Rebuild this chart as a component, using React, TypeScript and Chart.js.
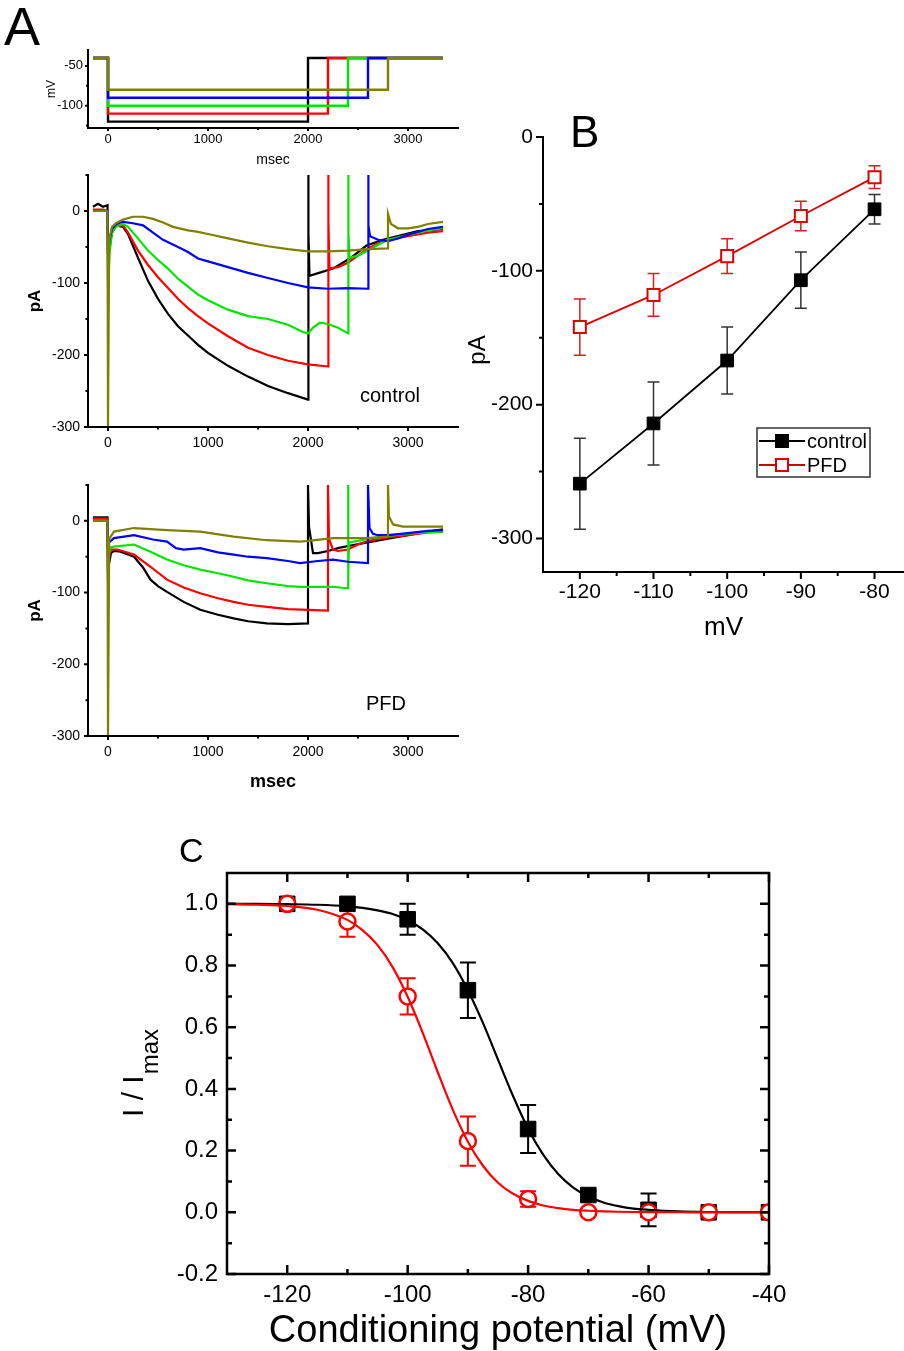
import React, { useEffect, useRef } from 'react';
import { Chart, registerables } from 'chart.js';

Chart.register(...registerables);

const FONT = '"Liberation Sans", Arial, Helvetica, sans-serif';

// ---------------- Panel A : voltage protocol ----------------
const protocolSteps = [-120, -110, -100, -90, -80];
const protocolEnds = [2000, 2200, 2400, 2600, 2800];
const holdingPotential = -40;
const protocolStart = -150;
const protocolStop = 3350;
const traceColors = ['#000000', '#ff0000', '#00e600', '#0000ff', '#808000'];

const msecMajor = [0, 1000, 2000, 3000];
const msecMinor = [500, 1500, 2500];
const mVMajor = [-50, -100];
const mVMinor = [-75, -125];
const pAMajorA = [0, -100, -200, -300];
const pAMinorA = [50, -50, -150, -250];

// ---------------- Panel A : current traces, control ([msec, pA]) ----------------
const ctrlBlack: number[][] = [
  [-150, 6], [-100, 10], [-50, 6], [-5, 8], [0, -60], [15, -50], [40, -30], [80, -20], [150, -22], [200, -32],
  [300, -65], [400, -97], [500, -122], [600, -143], [700, -160], [800, -173], [900, -186], [1000, -197],
  [1200, -215], [1400, -230], [1600, -243], [1800, -253], [2000, -262], [2000, 50], [2008, -30], [2015, -90],
  [2086, -87], [2250, -80], [2418, -66], [2585, -48], [2750, -40], [2917, -34], [3100, -28], [3350, -25],
];
const ctrlRed: number[][] = [
  [-150, 2], [-50, 2], [-5, 0], [0, -60], [15, -45], [40, -28], [80, -20], [150, -20], [200, -30], [300, -55],
  [400, -75], [500, -92], [600, -107], [700, -122], [800, -135], [900, -146], [1000, -156], [1200, -174],
  [1400, -190], [1600, -200], [1800, -208], [2000, -213], [2200, -216], [2200, 50], [2208, -15], [2215, -80],
  [2300, -78], [2400, -72], [2500, -62], [2600, -52], [2700, -45], [2800, -40], [3000, -35], [3200, -30], [3350, -28],
];
const ctrlGreen: number[][] = [
  [-150, 0], [-5, 0], [0, -110], [15, -60], [40, -30], [80, -22], [150, -18], [200, -22], [300, -38], [400, -55],
  [500, -68], [600, -80], [700, -94], [800, -105], [900, -116], [1000, -124], [1200, -137], [1400, -146],
  [1600, -150], [1800, -158], [1950, -168], [2000, -170], [2050, -162], [2120, -155], [2200, -157], [2300, -162],
  [2400, -170], [2400, 50], [2408, -30], [2415, -65], [2500, -62], [2600, -55], [2700, -47], [2800, -40],
  [3000, -33], [3200, -27], [3350, -24],
];
const ctrlBlue: number[][] = [
  [-150, 0], [-5, 0], [0, -60], [15, -40], [40, -25], [80, -18], [150, -15], [250, -17], [350, -20], [450, -30],
  [550, -40], [700, -50], [800, -57], [900, -66], [1000, -70], [1200, -78], [1400, -86], [1600, -93], [1800, -100],
  [2000, -106], [2200, -108], [2400, -107], [2600, -108], [2600, 50], [2608, -20], [2620, -35], [2700, -40],
  [2800, -42], [2900, -38], [3000, -33], [3200, -25], [3350, -22],
];
const ctrlOlive: number[][] = [
  [-150, 0], [-5, 0], [0, -300], [5, -300], [12, -40], [40, -22], [80, -17], [150, -12], [250, -8], [350, -8],
  [450, -11], [550, -16], [650, -22], [800, -27], [900, -29], [1000, -32], [1200, -38], [1400, -44], [1600, -49],
  [1800, -53], [2000, -56], [2200, -56], [2400, -55], [2600, -53], [2800, -52], [2800, -4], [2830, -18],
  [2900, -24], [3000, -24], [3100, -22], [3200, -18], [3350, -15],
];

// ---------------- Panel A : current traces, PFD ([msec, pA]) ----------------
const pfdBlack: number[][] = [
  [-150, 5], [-5, 5], [0, -85], [10, -60], [30, -45], [60, -42], [126, -43], [260, -50], [350, -65], [425, -82],
  [500, -91], [590, -99], [757, -113], [923, -124], [1100, -131], [1256, -136], [1400, -140], [1588, -143],
  [1800, -144], [2000, -143], [2000, 50], [2010, -8], [2050, -45], [2100, -45], [2200, -42], [2300, -38],
  [2400, -35], [2600, -30], [2800, -25], [3000, -20], [3200, -15], [3350, -12],
];
const pfdRed: number[][] = [
  [-150, 3], [-5, 3], [0, -70], [10, -50], [30, -40], [93, -40], [260, -47], [425, -64], [590, -82], [757, -93],
  [923, -101], [1100, -108], [1256, -113], [1400, -117], [1588, -120], [1800, -123], [2000, -124], [2200, -125],
  [2200, 50], [2210, -25], [2250, -40], [2300, -42], [2400, -40], [2500, -33], [2600, -28], [2800, -23],
  [3000, -20], [3200, -16], [3350, -15],
];
const pfdGreen: number[][] = [
  [-150, 0], [-5, 0], [0, -60], [10, -45], [30, -37], [60, -36], [260, -33], [425, -43], [590, -54], [757, -62],
  [923, -68], [1100, -73], [1256, -78], [1400, -83], [1588, -87], [1800, -91], [1920, -92], [2100, -92],
  [2250, -92], [2400, -94], [2400, 50], [2405, -75], [2410, -30], [2500, -28], [2600, -25], [2800, -21],
  [3000, -18], [3200, -16], [3350, -15],
];
const pfdBlue: number[][] = [
  [-150, 0], [-5, 0], [0, -50], [10, -30], [60, -24], [260, -20], [450, -26], [590, -29], [680, -38], [757, -40],
  [923, -38], [1100, -44], [1256, -47], [1400, -50], [1588, -52], [1800, -56], [1920, -59], [2100, -56],
  [2250, -54], [2400, -57], [2600, -59], [2600, 50], [2615, -10], [2650, -18], [2700, -20], [2800, -20],
  [3000, -17], [3200, -14], [3350, -13],
];
const pfdOlive: number[][] = [
  [-150, 0], [-5, 0], [0, -300], [5, -300], [12, -25], [60, -15], [260, -10], [590, -13], [923, -15], [1256, -22],
  [1588, -27], [1920, -29], [2000, -28], [2250, -24], [2585, -24], [2800, -22], [2800, 50], [2810, 6],
  [2850, -5], [2950, -8], [3100, -8], [3350, -8],
];

// ---------------- Panel B : I-V ----------------
const bVoltages = [-120, -110, -100, -90, -80];
const bControl = [-259, -214, -167, -107, -54];
const bControlErr = [34, 31, 25, 21, 11];
const bPFD = [-142, -118, -89, -59, -30];
const bPFDErr = [21, 16, 13, 11, 8.5];
const bXMajor = [-120, -110, -100, -90, -80];
const bXMinor = [-115, -105, -95, -85];
const bYMajor = [0, -100, -200, -300];
const bYMinor = [-50, -150, -250];

// ---------------- Panel C : availability ----------------
const cVoltages = [-120, -110, -100, -90, -80, -70, -60, -50, -40];
const cControl = [1.0, 1.0, 0.95, 0.72, 0.27, 0.056, 0.008, 0.0, 0.0];
const cControlErr = [0, 0.01, 0.05, 0.09, 0.078, 0.012, 0.053, 0, 0];
const cPFD = [1.0, 0.943, 0.70, 0.231, 0.043, 0.0, 0.0, 0.0, 0.0];
const cPFDErr = [0.01, 0.05, 0.059, 0.08, 0.025, 0, 0, 0, 0];
const cFitV = [-130, -125, -120, -115, -110, -107.5, -105, -102.5, -100, -97.5, -95, -92.5, -90, -87.5, -85,
  -82.5, -80, -77.5, -75, -72.5, -70, -67.5, -65, -62.5, -60, -55, -50, -45, -40];
const cFitControl = [1.0, 1.0, 0.999, 0.997, 0.992, 0.987, 0.979, 0.967, 0.947, 0.917, 0.872, 0.808, 0.72, 0.614,
  0.495, 0.377, 0.271, 0.187, 0.124, 0.08, 0.051, 0.032, 0.02, 0.012, 0.008, 0.003, 0.001, 0.0004, 0.0002];
const cFitPFD = [0.999, 0.997, 0.993, 0.981, 0.948, 0.915, 0.866, 0.795, 0.699, 0.582, 0.454, 0.332, 0.229, 0.151,
  0.096, 0.06, 0.037, 0.022, 0.0135, 0.008, 0.005, 0.003, 0.0018, 0.001, 0.0006, 0.0002, 0, 0, 0];
const cXMajor = [-120, -100, -80, -60, -40];
const cXMinor = [-110, -90, -70, -50];
const cYMajor = [-0.2, 0, 0.2, 0.4, 0.6, 0.8, 1.0];
const cYMinor = [-0.1, 0.1, 0.3, 0.5, 0.7, 0.9];

// ---------------- helpers ----------------
type Side = 'left' | 'right' | 'top' | 'bottom';
interface AxesCfg {
  sides: Side[]; tickSides: Side[]; inward: boolean; major: number; minor: number; width: number;
  xMajor: number[]; xMinor: number[]; yMajor: number[]; yMinor: number[];
}

function axesPlugin(cfg: AxesCfg) {
  return {
    id: 'sciAxes',
    afterDatasetsDraw(chart: any) {
      const { ctx, chartArea: a } = chart;
      const xs = chart.scales.x;
      const ys = chart.scales.y;
      ctx.save();
      ctx.strokeStyle = '#000';
      ctx.lineWidth = cfg.width;
      ctx.lineCap = 'square';
      ctx.beginPath();
      if (cfg.sides.includes('left')) { ctx.moveTo(a.left, a.top); ctx.lineTo(a.left, a.bottom); }
      if (cfg.sides.includes('bottom')) { ctx.moveTo(a.left, a.bottom); ctx.lineTo(a.right, a.bottom); }
      if (cfg.sides.includes('right')) { ctx.moveTo(a.right, a.top); ctx.lineTo(a.right, a.bottom); }
      if (cfg.sides.includes('top')) { ctx.moveTo(a.left, a.top); ctx.lineTo(a.right, a.top); }
      ctx.stroke();
      ctx.lineCap = 'butt';
      const d = cfg.inward ? 1 : -1;
      ctx.beginPath();
      const doY = (vals: number[], len: number) => {
        vals.forEach((v) => {
          const p = ys.getPixelForValue(v);
          if (cfg.tickSides.includes('left')) { ctx.moveTo(a.left, p); ctx.lineTo(a.left + d * len, p); }
          if (cfg.tickSides.includes('right')) { ctx.moveTo(a.right, p); ctx.lineTo(a.right - d * len, p); }
        });
      };
      const doX = (vals: number[], len: number) => {
        vals.forEach((v) => {
          const p = xs.getPixelForValue(v);
          if (cfg.tickSides.includes('bottom')) { ctx.moveTo(p, a.bottom); ctx.lineTo(p, a.bottom - d * len); }
          if (cfg.tickSides.includes('top')) { ctx.moveTo(p, a.top); ctx.lineTo(p, a.top + d * len); }
        });
      };
      doY(cfg.yMajor, cfg.major); doY(cfg.yMinor, cfg.minor);
      doX(cfg.xMajor, cfg.major); doX(cfg.xMinor, cfg.minor);
      ctx.stroke();
      ctx.restore();
    },
  };
}

interface ErrItem { dataset: number; values: number[]; errors: number[]; color: string; width: number; cap: number }
function errPlugin(items: ErrItem[]) {
  return {
    id: 'errBars',
    beforeDatasetsDraw(chart: any) {
      const { ctx } = chart;
      const ys = chart.scales.y;
      items.forEach((it) => {
        const meta = chart.getDatasetMeta(it.dataset);
        ctx.save();
        ctx.strokeStyle = it.color;
        ctx.lineWidth = it.width;
        ctx.beginPath();
        meta.data.forEach((pt: any, j: number) => {
          const e = it.errors[j];
          if (!e) return;
          const y1 = ys.getPixelForValue(it.values[j] + e);
          const y2 = ys.getPixelForValue(it.values[j] - e);
          const x = pt.x;
          ctx.moveTo(x, y1); ctx.lineTo(x, y2);
          ctx.moveTo(x - it.cap / 2, y1); ctx.lineTo(x + it.cap / 2, y1);
          ctx.moveTo(x - it.cap / 2, y2); ctx.lineTo(x + it.cap / 2, y2);
        });
        ctx.stroke();
        ctx.restore();
      });
    },
  };
}

interface TextItem { text: string; font: string; x: number | 'mid'; y: number | 'mid'; rotate?: boolean }
function textPlugin(items: TextItem[]) {
  return {
    id: 'texts',
    afterDraw(chart: any) {
      const { ctx, chartArea: a } = chart;
      items.forEach((it) => {
        const x = it.x === 'mid' ? (a.left + a.right) / 2 : it.x;
        const y = it.y === 'mid' ? (a.top + a.bottom) / 2 : it.y;
        ctx.save();
        ctx.fillStyle = '#000';
        ctx.font = it.font;
        ctx.textAlign = 'center';
        ctx.textBaseline = 'middle';
        ctx.translate(x, y);
        if (it.rotate) ctx.rotate(-Math.PI / 2);
        ctx.fillText(it.text, 0, 0);
        ctx.restore();
      });
    },
  };
}

function scale(opts: {
  min: number; max: number; ticks: number[]; size: number; fontSize: number; pad: number;
  horizontal: boolean; fmt?: (v: number) => string;
}) {
  return {
    type: 'linear',
    min: opts.min,
    max: opts.max,
    grid: { display: false, drawTicks: false },
    border: { display: false },
    ticks: {
      autoSkip: false,
      maxRotation: 0,
      minRotation: 0,
      padding: opts.pad,
      color: '#000',
      font: { family: FONT, size: opts.fontSize },
      callback: (v: any) => (opts.fmt ? opts.fmt(Number(v)) : String(Number(v))),
    },
    afterBuildTicks: (s: any) => { s.ticks = opts.ticks.map((v) => ({ value: v })); },
    afterFit: (s: any) => {
      if (opts.horizontal) s.height = opts.size; else s.width = opts.size;
      s.paddingLeft = 0; s.paddingRight = 0; s.paddingTop = 0; s.paddingBottom = 0;
    },
  };
}

const toXY = (pairs: number[][]) => pairs.map((p) => ({ x: p[0], y: p[1] }));

function traceDatasets(traces: number[][][], width: number) {
  // black drawn first ... olive on top (index 0 is drawn last)
  const order = [4, 3, 2, 1, 0];
  return order.map((i) => ({
    data: toXY(traces[i]),
    borderColor: traceColors[i],
    borderWidth: width,
    pointRadius: 0,
    tension: 0,
    fill: false,
  }));
}

// ---------------- chart configs ----------------
function protocolConfig() {
  const traces = protocolSteps.map((v, i) => [
    [protocolStart, holdingPotential], [0, holdingPotential], [0, v], [protocolEnds[i], v],
    [protocolEnds[i], holdingPotential], [protocolStop, holdingPotential],
  ]);
  return {
    type: 'line',
    data: { datasets: traceDatasets(traces, 2.4) },
    options: {
      responsive: false, animation: false, devicePixelRatio: 1,
      layout: { autoPadding: false, padding: { left: 0, top: 12, right: 12, bottom: 0 } },
      plugins: { legend: { display: false }, tooltip: { enabled: false } },
      scales: {
        x: scale({ min: -200, max: 3500, ticks: msecMajor, size: 42, fontSize: 13, pad: 4, horizontal: true }),
        y: scale({ min: -128, max: -30, ticks: mVMajor, size: 88, fontSize: 13, pad: 5, horizontal: false }),
      },
    },
    plugins: [
      axesPlugin({ sides: ['left', 'bottom'], tickSides: ['left', 'bottom'], inward: false, major: 3, minor: 2,
        width: 2, xMajor: msecMajor, xMinor: msecMinor, yMajor: mVMajor, yMinor: mVMinor }),
      textPlugin([
        { text: 'mV', font: `12px ${FONT}`, x: 52, y: 'mid', rotate: true },
        { text: 'msec', font: `14px ${FONT}`, x: 'mid', y: 122 },
      ]),
    ],
  };
}

function currentConfig(traces: number[][][], xHeight: number, withXTitle: boolean, titleY: number) {
  const texts: TextItem[] = [{ text: 'pA', font: `bold 17px ${FONT}`, x: 35, y: 'mid', rotate: true }];
  if (withXTitle) texts.push({ text: 'msec', font: `bold 18px ${FONT}`, x: 'mid', y: titleY });
  return {
    type: 'line',
    data: { datasets: traceDatasets(traces, 2.2) },
    options: {
      responsive: false, animation: false, devicePixelRatio: 1,
      layout: { autoPadding: false, padding: { left: 0, top: 7, right: 12, bottom: 0 } },
      plugins: { legend: { display: false }, tooltip: { enabled: false } },
      scales: {
        x: scale({ min: -200, max: 3500, ticks: msecMajor, size: xHeight, fontSize: 14, pad: 8, horizontal: true }),
        y: scale({ min: -300, max: 50, ticks: pAMajorA, size: 88, fontSize: 14, pad: 8, horizontal: false }),
      },
    },
    plugins: [
      axesPlugin({ sides: ['left', 'bottom'], tickSides: ['left', 'bottom'], inward: false, major: 4, minor: 2.5,
        width: 2, xMajor: msecMajor, xMinor: msecMinor, yMajor: pAMajorA, yMinor: pAMinorA }),
      textPlugin(texts),
    ],
  };
}

function ivConfig() {
  const legendPlugin = {
    id: 'ivLegend',
    afterDraw(chart: any) {
      const { ctx } = chart;
      ctx.save();
      ctx.strokeStyle = '#333';
      ctx.lineWidth = 1.5;
      ctx.strokeRect(302, 333, 113, 49);
      const rows = [
        { y: 346, line: '#000', fill: '#000', stroke: '#000', label: 'control' },
        { y: 370, line: '#cc0000', fill: '#fff', stroke: '#e00000', label: 'PFD' },
      ];
      rows.forEach((r) => {
        ctx.strokeStyle = r.line;
        ctx.lineWidth = 2;
        ctx.beginPath(); ctx.moveTo(304, r.y); ctx.lineTo(350, r.y); ctx.stroke();
        ctx.fillStyle = r.fill;
        ctx.fillRect(321, r.y - 6, 12, 12);
        ctx.strokeStyle = r.stroke;
        ctx.lineWidth = 2;
        ctx.strokeRect(321, r.y - 6, 12, 12);
        ctx.fillStyle = '#000';
        ctx.font = `20px ${FONT}`;
        ctx.textAlign = 'left';
        ctx.textBaseline = 'middle';
        ctx.fillText(r.label, 352, r.y + 1);
      });
      ctx.restore();
    },
  };
  return {
    type: 'line',
    data: {
      datasets: [
        {
          data: bVoltages.map((v, i) => ({ x: v, y: bControl[i] })),
          borderColor: '#000', borderWidth: 1.8, pointStyle: 'rect', pointRadius: 9,
          pointBackgroundColor: '#000', pointBorderColor: '#000', pointBorderWidth: 1, tension: 0,
        },
        {
          data: bVoltages.map((v, i) => ({ x: v, y: bPFD[i] })),
          borderColor: '#e00000', borderWidth: 1.8, pointStyle: 'rect', pointRadius: 8.5,
          pointBackgroundColor: '#ffffff', pointBorderColor: '#e00000', pointBorderWidth: 2, tension: 0,
        },
      ],
    },
    options: {
      responsive: false, animation: false, devicePixelRatio: 1,
      layout: { autoPadding: false, padding: { left: 0, top: 42, right: 0, bottom: 0 } },
      plugins: { legend: { display: false }, tooltip: { enabled: false } },
      scales: {
        x: scale({ min: -125, max: -76, ticks: bXMajor, size: 83, fontSize: 21, pad: 8, horizontal: true }),
        y: scale({ min: -325, max: 0, ticks: bYMajor, size: 88, fontSize: 21, pad: 10, horizontal: false }),
      },
    },
    plugins: [
      errPlugin([
        { dataset: 0, values: bControl, errors: bControlErr, color: '#333333', width: 1.5, cap: 12 },
        { dataset: 1, values: bPFD, errors: bPFDErr, color: '#d02020', width: 1.5, cap: 12 },
      ]),
      axesPlugin({ sides: ['left', 'bottom'], tickSides: ['left', 'bottom'], inward: false, major: 7, minor: 4,
        width: 2, xMajor: bXMajor, xMinor: bXMinor, yMajor: bYMajor, yMinor: bYMinor }),
      textPlugin([
        { text: 'pA', font: `24px ${FONT}`, x: 23, y: 255, rotate: true },
        { text: 'mV', font: `26px ${FONT}`, x: 'mid', y: 533 },
      ]),
      legendPlugin,
    ],
  };
}

function availConfig() {
  const yTitle = {
    id: 'cYTitle',
    afterDraw(chart: any) {
      const { ctx, chartArea: a } = chart;
      const cy = (a.top + a.bottom) / 2;
      ctx.save();
      ctx.translate(32, cy);
      ctx.rotate(-Math.PI / 2);
      ctx.fillStyle = '#000';
      ctx.textAlign = 'left';
      ctx.textBaseline = 'alphabetic';
      ctx.font = `30px ${FONT}`;
      const w1 = ctx.measureText('I / I').width;
      ctx.font = `24px ${FONT}`;
      const w2 = ctx.measureText('max').width;
      const start = -(w1 + w2) / 2;
      ctx.font = `30px ${FONT}`;
      ctx.fillText('I / I', start, 11);
      ctx.font = `24px ${FONT}`;
      ctx.fillText('max', start + w1 + 1, 26);
      ctx.restore();
    },
  };
  return {
    type: 'line',
    data: {
      datasets: [
        // fit curves (drawn on top)
        {
          data: cFitV.map((v, i) => ({ x: v, y: cFitPFD[i] })),
          borderColor: '#ff0000', borderWidth: 2.2, pointRadius: 0, cubicInterpolationMode: 'monotone',
        },
        {
          data: cFitV.map((v, i) => ({ x: v, y: cFitControl[i] })),
          borderColor: '#000', borderWidth: 2.2, pointRadius: 0, cubicInterpolationMode: 'monotone',
        },
        // PFD open circles over control squares
        {
          data: cVoltages.map((v, i) => ({ x: v, y: cPFD[i] })),
          showLine: false, pointStyle: 'circle', pointRadius: 8, pointBorderWidth: 2.5,
          pointBorderColor: '#ff0000', pointBackgroundColor: '#ffffff',
        },
        {
          data: cVoltages.map((v, i) => ({ x: v, y: cControl[i] })),
          showLine: false, pointStyle: 'rect', pointRadius: 11, pointBorderWidth: 1,
          pointBorderColor: '#000', pointBackgroundColor: '#000',
        },
      ],
    },
    options: {
      responsive: false, animation: false, devicePixelRatio: 1,
      layout: { autoPadding: false, padding: { left: 0, top: 43, right: 135, bottom: 0 } },
      plugins: { legend: { display: false }, tooltip: { enabled: false } },
      scales: {
        x: scale({ min: -130, max: -40, ticks: cXMajor, size: 77, fontSize: 24, pad: 7, horizontal: true }),
        y: scale({ min: -0.2, max: 1.1, ticks: cYMajor, size: 127, fontSize: 24, pad: 9, horizontal: false,
          fmt: (v) => v.toFixed(1) }),
      },
    },
    plugins: [
      errPlugin([
        { dataset: 3, values: cControl, errors: cControlErr, color: '#000', width: 2, cap: 16 },
        { dataset: 2, values: cPFD, errors: cPFDErr, color: '#ff0000', width: 2, cap: 16 },
      ]),
      axesPlugin({ sides: ['left', 'bottom', 'right', 'top'], tickSides: ['left', 'bottom', 'right', 'top'],
        inward: true, major: 9, minor: 5, width: 2.5, xMajor: cXMajor, xMinor: cXMinor, yMajor: cYMajor, yMinor: cYMinor }),
      textPlugin([{ text: 'Conditioning potential (mV)', font: `38px ${FONT}`, x: 'mid', y: 502 }]),
      yTitle,
    ],
  };
}

// ---------------- components ----------------
function ChartCanvas(props: { left: number; top: number; width: number; height: number; make: () => any }) {
  const ref = useRef<HTMLCanvasElement | null>(null);
  useEffect(() => {
    if (!ref.current) return;
    const chart = new Chart(ref.current, props.make());
    return () => chart.destroy();
  }, []);
  return (
    <canvas
      ref={ref}
      width={props.width}
      height={props.height}
      style={{ position: 'absolute', left: props.left, top: props.top, width: props.width, height: props.height }}
    />
  );
}

function Label(props: { text: string; left: number; baseline: number; size: number }) {
  return (
    <div
      style={{
        position: 'absolute', left: props.left, top: props.baseline - 0.846 * props.size,
        fontFamily: FONT, fontSize: props.size, lineHeight: 1, color: '#000', whiteSpace: 'nowrap',
      }}
    >
      {props.text}
    </div>
  );
}

export default function App() {
  useEffect(() => {
    document.body.style.margin = '0';
    document.body.style.background = '#fff';
  }, []);
  return (
    <div style={{ position: 'absolute', left: 0, top: 0, width: 904, height: 1351, background: '#fff', overflow: 'hidden' }}>
      <ChartCanvas left={0} top={38} width={470} height={132} make={protocolConfig} />
      <ChartCanvas left={0} top={168} width={470} height={290}
        make={() => currentConfig([ctrlBlack, ctrlRed, ctrlGreen, ctrlBlue, ctrlOlive], 31, false, 0)} />
      <ChartCanvas left={0} top={478} width={470} height={322}
        make={() => currentConfig([pfdBlack, pfdRed, pfdGreen, pfdBlue, pfdOlive], 64, true, 304)} />
      <ChartCanvas left={455} top={95} width={449} height={560} make={ivConfig} />
      <ChartCanvas left={100} top={830} width={804} height={521} make={availConfig} />
      <Label text="A" left={4} baseline={45} size={54} />
      <Label text="control" left={360} baseline={402} size={20} />
      <Label text="PFD" left={366} baseline={710} size={20} />
      <Label text="B" left={570} baseline={147} size={44} />
      <Label text="C" left={179} baseline={862} size={34} />
    </div>
  );
}
